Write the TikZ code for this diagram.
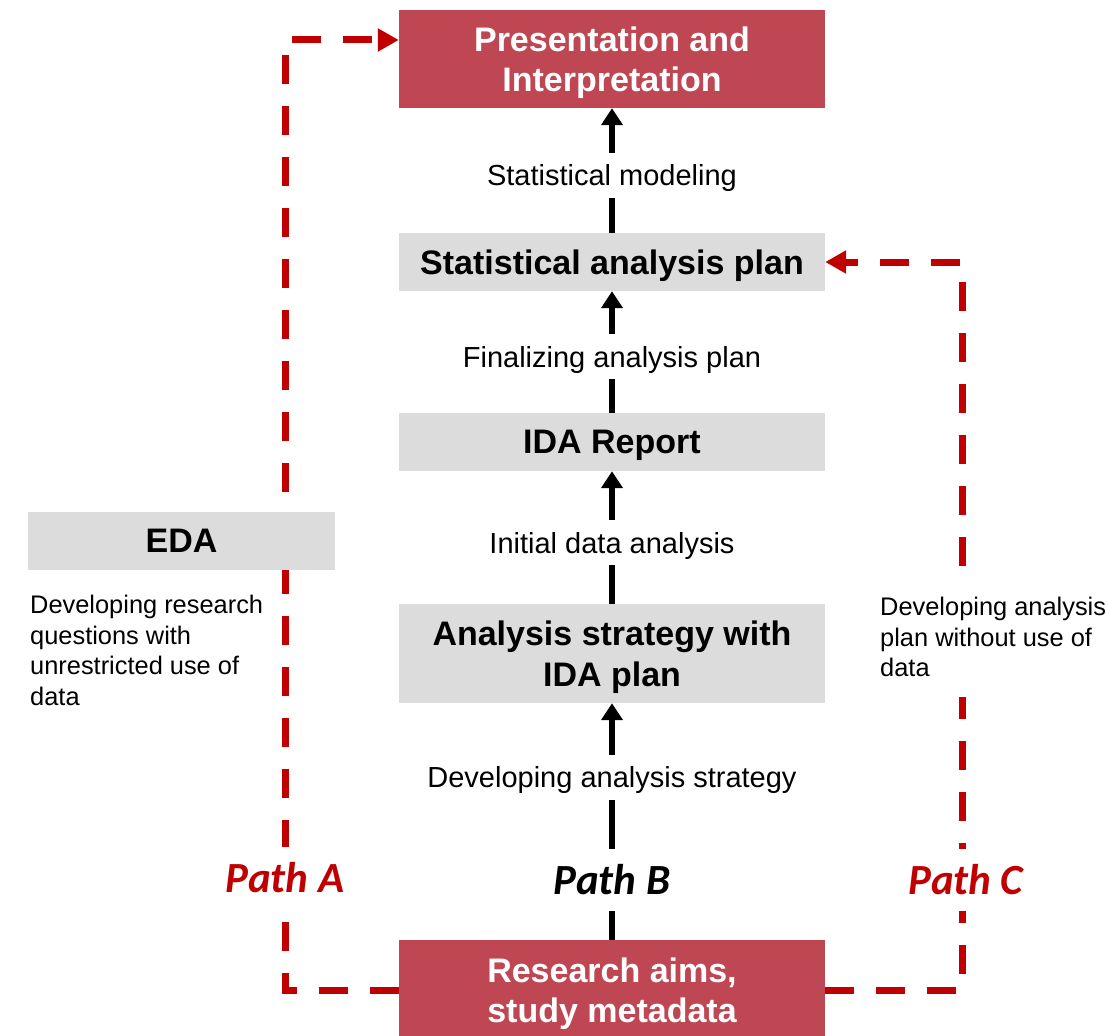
\documentclass[tikz,border=0pt]{standalone}
\usepackage{fontspec}
\setmainfont{Liberation Sans}
\newfontfamily\calfont{Carlito}
\usetikzlibrary{arrows.meta}

\definecolor{boxgray}{RGB}{220,220,220}
\definecolor{boxred}{RGB}{191,71,83}
\definecolor{pathred}{RGB}{192,0,0}

\tikzset{
  box/.style={minimum width=426pt, minimum height=58pt, inner sep=0pt, align=center,
    text depth=0pt, font=\fontsize{34}{40.5}\selectfont\bfseries},
  graybox/.style={box, fill=boxgray},
  redbox/.style={box, fill=boxred, text=white},
  flow/.style={line width=6pt, -{Triangle[length=17pt,width=21pt]}},
  steplabel/.style={fill=white, inner xsep=4pt, inner ysep=12pt, text depth=0pt,
    font=\fontsize{29}{35}\selectfont},
  pathlabel/.style={fill=white, inner xsep=4pt, inner ysep=16pt,
    font=\fontsize{43}{50}\selectfont\calfont\bfseries\itshape},
  redpath/.style={draw=pathred, line width=7pt, dash pattern=on 29pt off 22pt,
    -{Triangle[length=21pt,width=22pt]}},
  desc/.style={align=left, font=\fontsize{25.4}{30.5}\selectfont},
}

\begin{document}
\begin{tikzpicture}[x=1pt,y=-1pt]
    \useasboundingbox (0,0) rectangle (1107,1035);
    % boxes of path B
    \node[redbox, minimum height=98pt] (pres) at (612,59) {Presentation and\\Interpretation};
    \node[graybox] (sap) at (612,262) {Statistical analysis plan};
    \node[graybox] (ida) at (612,442) {IDA Report};
    \node[graybox, minimum height=99pt] (strategy) at (612,653.5) {Analysis strategy with\\IDA plan};
    \node[redbox, minimum height=100pt] (research) at (612,990) {Research aims,\\study metadata};

    \foreach \from/\to/\txt in {sap/pres/Statistical modeling,
        ida/sap/Finalizing analysis plan, strategy/ida/Initial data analysis}
    \draw[flow] (\from) -- node[steplabel, pos=.46] {\txt} (\to);
    \draw[flow] (research) -- node[pathlabel, pos=.253] {Path B}
        node[steplabel, pos=.688] {Developing analysis strategy} (strategy);

    % path A and path C
    \coordinate (aTop) at (285,40);
    \coordinate (cTop) at (962,262);
    \draw[redpath] (research.west) -| (aTop) -- (aTop -| pres.west);
    \draw[redpath] (research.east) -| (cTop) -- (sap.east);
    \node[pathlabel, text=pathred] (pathA) at (285,878) {Path A};
    \node[pathlabel, text=pathred] (pathC) at (966,880) {Path C};

    \node[graybox, minimum width=307pt] (eda) at (181.5,541) {EDA};
    \node[desc, anchor=north west, inner sep=0pt] (edaText) at (30,595)
        {Developing research\\questions with\\unrestricted use of\\data};
    \node[desc, anchor=north west, fill=white, inner xsep=0pt, inner ysep=20pt] (planText) at (880,577)
        {Developing analysis\\plan without use of\\data};
\end{tikzpicture}
\end{document}
